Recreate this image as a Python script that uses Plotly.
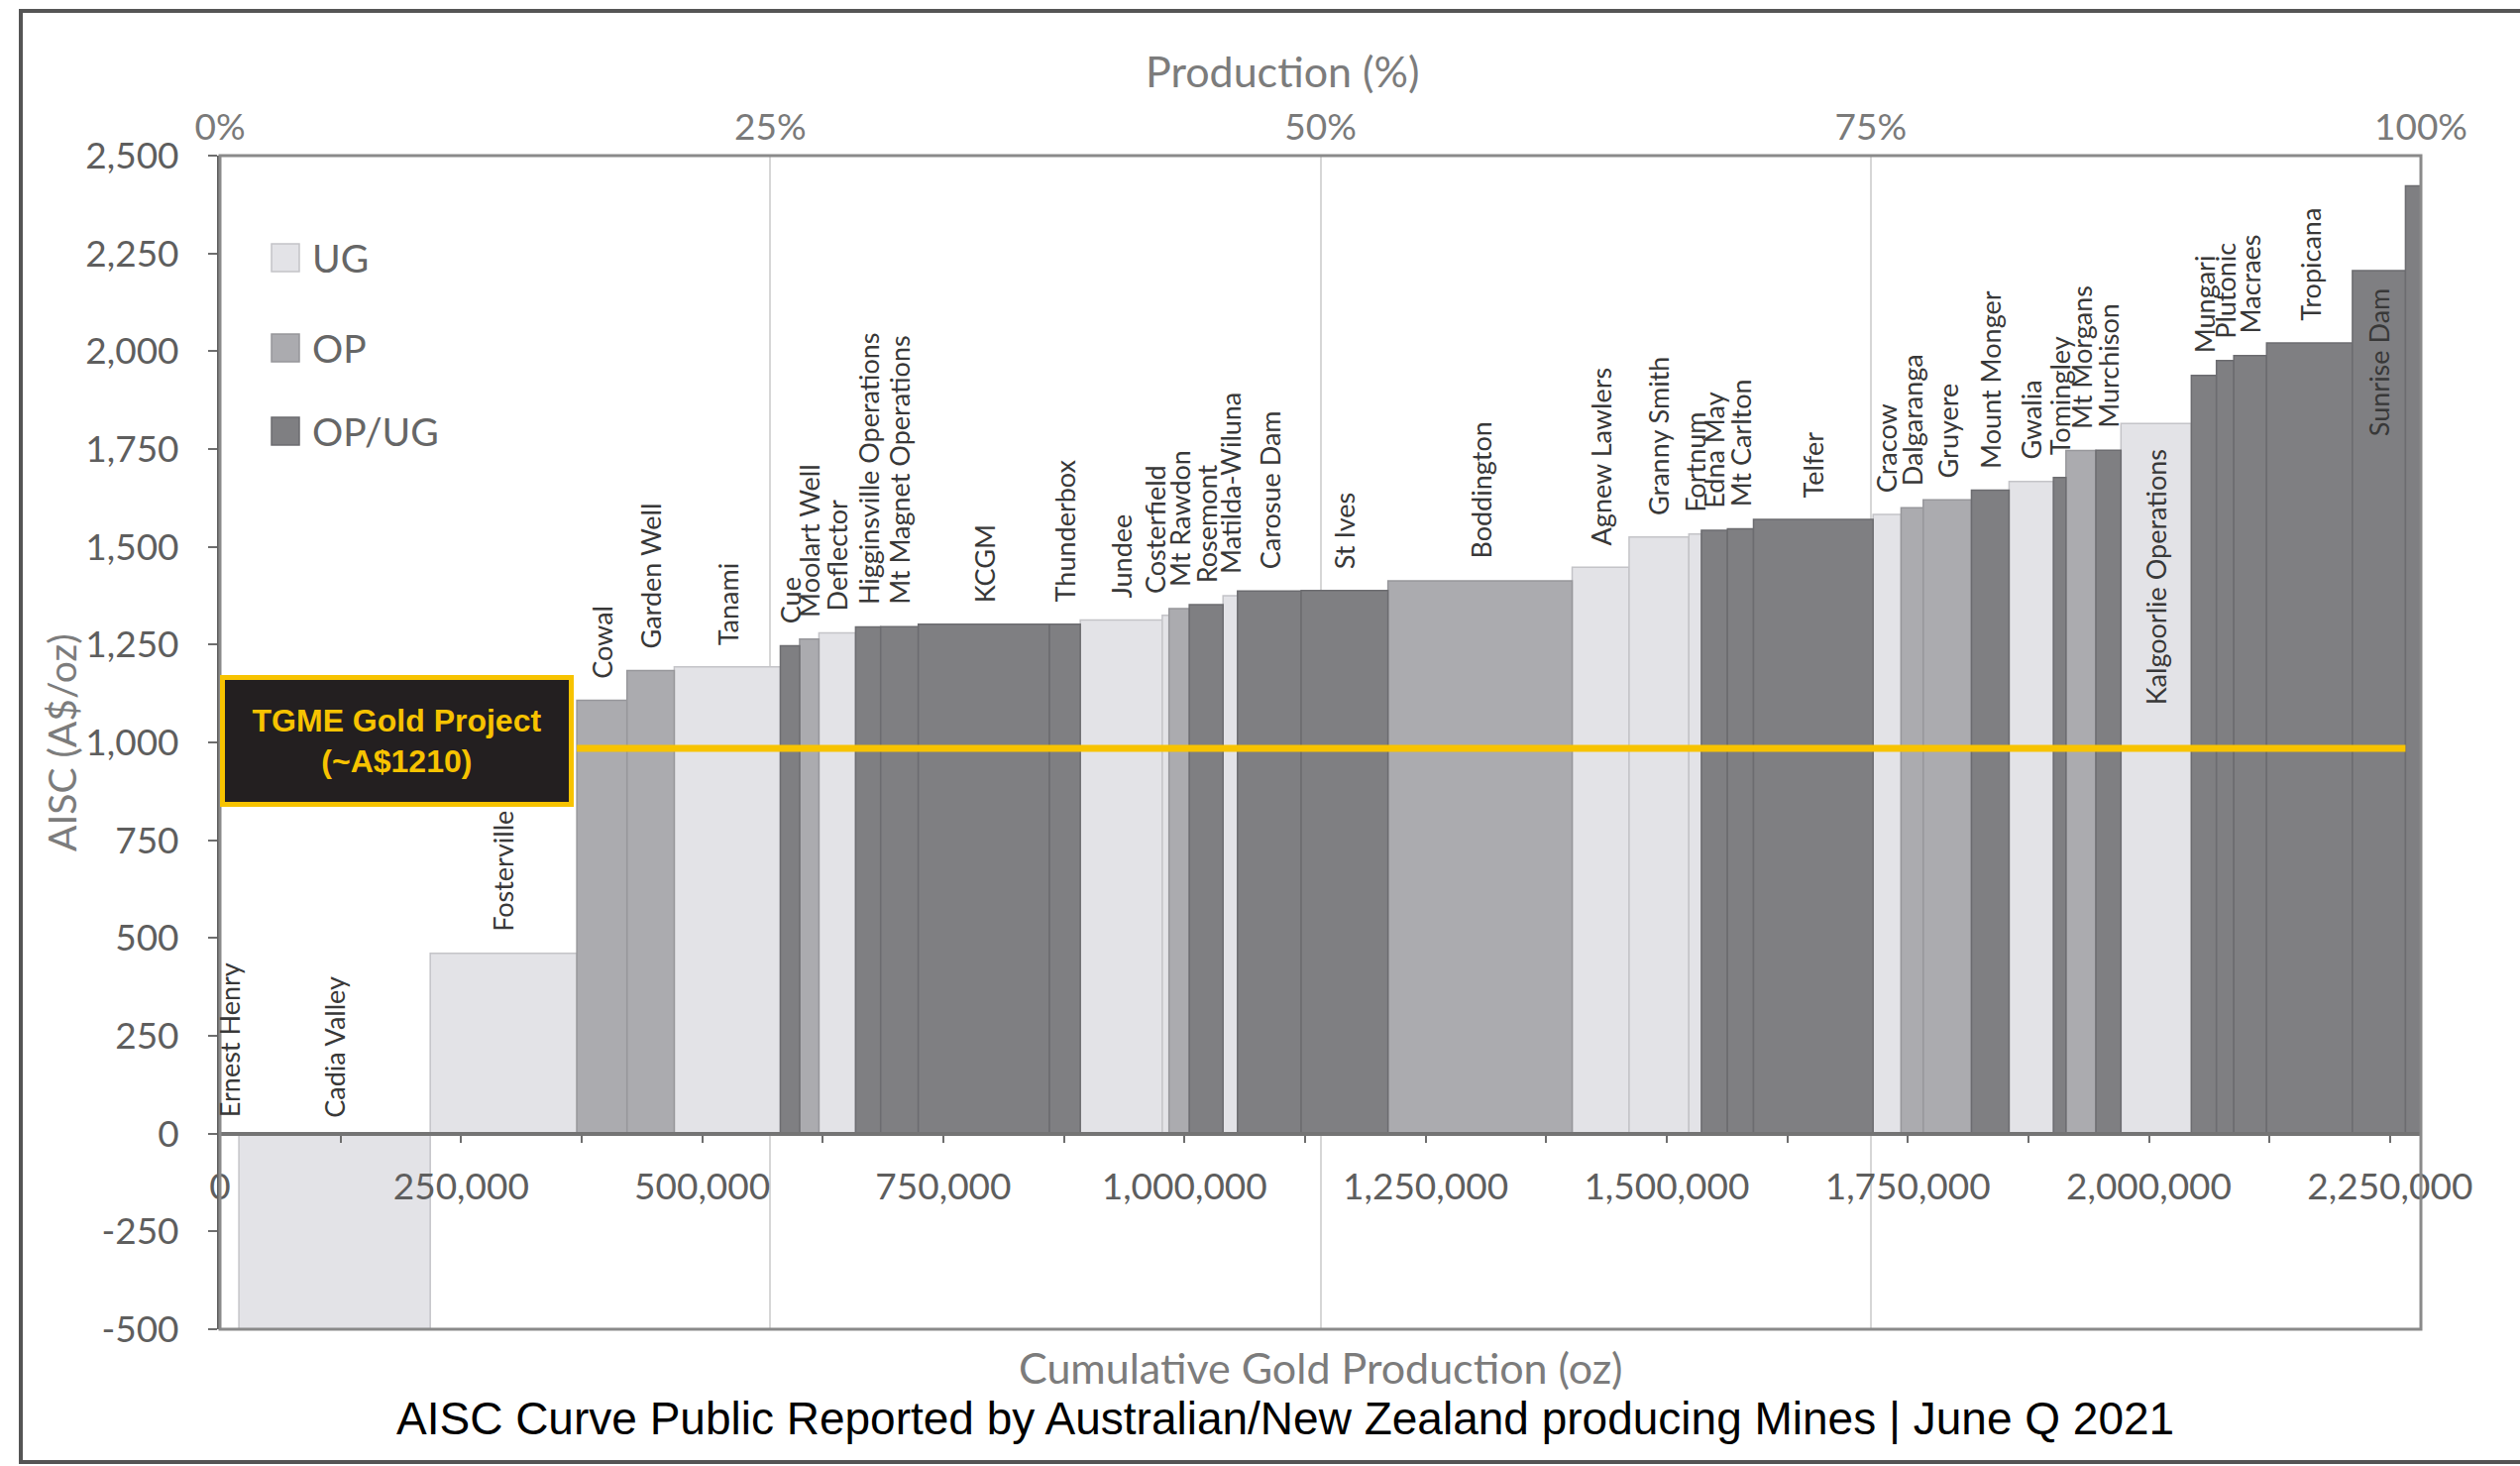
import plotly.graph_objects as go

# ---------------- DATA ----------------
mines = ["Ernest Henry", "Cadia Valley", "Fosterville", "Cowal", "Garden Well", "Tanami",
         "Cue", "Moolart Well", "Deflector", "Higginsville Operations", "Mt Magnet Operations",
         "KCGM", "Thunderbox", "Jundee", "Costerfield", "Mt Rawdon", "Rosemont",
         "Matilda-Wiluna", "Carosue Dam", "St Ives", "Boddington", "Agnew Lawlers",
         "Granny Smith", "Fortnum", "Edna May", "Mt Carlton", "Telfer", "Cracow",
         "Dalgaranga", "Gruyere", "Mount Monger", "Gwalia", "Tomingley", "Mt Morgans",
         "Murchison", "Kalgoorlie Operations", "Mungari", "Plutonic", "Macraes",
         "Tropicana", "Sunrise Dam", ""]
production_oz = [19600, 198400, 152000, 52000, 49000, 110000,
                 20000, 20000, 38000, 26000, 39000,
                 136000, 32000, 85000, 7000, 21000, 35000,
                 15000, 66000, 90000, 191000, 59000,
                 62000, 13000, 27000, 27000, 124000, 29000,
                 23000, 50000, 39000, 46000, 13000, 31000,
                 26000, 73000, 26000, 18000, 34000,
                 89000, 55000, 16000]
aisc = [0, -500, 461, 1108, 1184, 1193,
        1247, 1264, 1280, 1295, 1296,
        1302, 1302, 1313, 1325, 1342, 1352,
        1375, 1387, 1388, 1413, 1448,
        1525, 1533, 1542, 1546, 1570, 1583,
        1600, 1620, 1645, 1667, 1677, 1746,
        1747, 1815, 1938, 1976, 1989,
        2021, 2206, 2423]
mine_type = ["UG", "UG", "UG", "OP", "OP", "UG",
             "OP/UG", "OP", "UG", "OP/UG", "OP/UG",
             "OP/UG", "OP/UG", "UG", "UG", "OP", "OP/UG",
             "UG", "OP/UG", "OP/UG", "OP", "UG",
             "UG", "UG", "OP/UG", "OP/UG", "OP/UG", "UG",
             "OP", "OP", "OP/UG", "UG", "OP/UG", "OP",
             "OP/UG", "UG", "OP/UG", "OP/UG", "OP/UG",
             "OP/UG", "OP/UG", "OP/UG"]
categories = ["UG", "OP", "OP/UG"]

y_tick_values = [-500, -250, 0, 250, 500, 750, 1000, 1250, 1500, 1750, 2000, 2250, 2500]
y_tick_labels = ["-500", "-250", "0", "250", "500", "750", "1,000", "1,250", "1,500",
                 "1,750", "2,000", "2,250", "2,500"]
x_tick_values = [0, 250000, 500000, 750000, 1000000, 1250000, 1500000, 1750000, 2000000, 2250000]
x_tick_labels = ["0", "250,000", "500,000", "750,000", "1,000,000", "1,250,000",
                 "1,500,000", "1,750,000", "2,000,000", "2,250,000"]
pct_tick_values = [0, 25, 50, 75, 100]
pct_tick_labels = ["0%", "25%", "50%", "75%", "100%"]

TGME_TEXT = "TGME Gold Project<br>(~A$1210)"
TGME_LINE_AISC = 985
TGME_LINE_FROM = "Fosterville"
TGME_LINE_TO = "Sunrise Dam"

TITLE = "AISC Curve Public Reported by Australian/New Zealand producing Mines | June Q 2021"
Y_TITLE = "AISC (A$/oz)"
X_TITLE = "Cumulative Gold Production (oz)"
X2_TITLE = "Production (%)"
Y_MIN, Y_MAX = -500, 2500

# ---------------- STYLE ----------------
W, H = 2543, 1479
ML, MR, MT, MB = 222, 100, 157, 138
PW, PH = W - ML - MR, H - MT - MB

fill = {"UG": "#e3e3e7", "OP": "#ababaf", "OP/UG": "#7f7f82"}
edge = {"UG": "#c4c4c8", "OP": "#97979b", "OP/UG": "#6c6c70"}
GOLD = "#F7C300"
TICK_FONT = dict(family="Lato, sans-serif", size=37, color="#5e5e5e")
TITLE_FONT = dict(family="Lato, sans-serif", size=43, color="#7c7c7c")
LABEL_FONT = dict(family="Lato, sans-serif", size=27, color="#383838")

inside_label_gap = {"Kalgoorlie Operations": 24, "Sunrise Dam": 16}
label_xshift = {"Costerfield": -11}


def px_x(px):
    return (px - ML) / PW


def px_y(py):
    return (H - MB - py) / PH


# ---------------- GEOMETRY FROM DATA ----------------
ends = []
acc = 0
for p in production_oz:
    acc += p
    ends.append(acc)
starts = [e - p for e, p in zip(ends, production_oz)]
centers = [(s + e) / 2 for s, e in zip(starts, ends)]
total = ends[-1]

fig = go.Figure()
for cat in categories:
    idx = [i for i, t in enumerate(mine_type) if t == cat]
    fig.add_trace(go.Bar(
        x=[centers[i] for i in idx],
        y=[aisc[i] for i in idx],
        width=[production_oz[i] for i in idx],
        name=cat,
        marker=dict(color=fill[cat], line=dict(color=edge[cat], width=1.5)),
        showlegend=False,
        hovertext=[mines[i] for i in idx],
    ))
# dummy trace for the percent axis
fig.add_trace(go.Scatter(x=[0, 100], y=[None, None], xaxis="x2", showlegend=False,
                         mode="markers", hoverinfo="skip"))

annotations = []
for i, name in enumerate(mines):
    if not name:
        continue
    xs = label_xshift.get(name, 0)
    if name in inside_label_gap:
        annotations.append(dict(x=centers[i], y=aisc[i], xref="x", yref="y", text=name,
                                textangle=-90, showarrow=False, xanchor="center",
                                yanchor="top", yshift=-inside_label_gap[name], xshift=xs,
                                font=LABEL_FONT))
    else:
        base = max(aisc[i], 0)
        annotations.append(dict(x=centers[i], y=base, xref="x", yref="y", text=name,
                                textangle=-90, showarrow=False, xanchor="center",
                                yanchor="bottom", yshift=(14 if aisc[i] <= 0 else 20),
                                xshift=xs, font=LABEL_FONT))

# axis titles and chart title
annotations += [
    dict(x=px_x(1294), y=px_y(71), xref="paper", yref="paper", text=X2_TITLE,
         showarrow=False, font=TITLE_FONT, xanchor="center", yanchor="middle"),
    dict(x=0.5, y=px_y(1379), xref="paper", yref="paper", text=X_TITLE, showarrow=False,
         font=TITLE_FONT, xanchor="center", yanchor="middle"),
    dict(x=px_x(62), y=0.5, xref="paper", yref="paper", text=Y_TITLE, showarrow=False,
         textangle=-90, font=dict(family="Lato, sans-serif", size=39, color="#7c7c7c"),
         xanchor="center", yanchor="middle"),
    dict(x=px_x(1297), y=px_y(1431), xref="paper", yref="paper", text=TITLE,
         showarrow=False, font=dict(family="Liberation Sans, Arial, sans-serif", size=46,
                                    color="#000000"), xanchor="center", yanchor="middle"),
]

# legend (manual)
shapes = []
legend_rows = [260, 351, 435]
for cat, cy in zip(categories, legend_rows):
    shapes.append(dict(type="rect", xref="paper", yref="paper",
                       x0=px_x(274), x1=px_x(302), y0=px_y(cy + 14), y1=px_y(cy - 14),
                       fillcolor=fill[cat], line=dict(color=edge[cat], width=1.5)))
    annotations.append(dict(x=px_x(313), y=px_y(cy), xref="paper", yref="paper", text=cat,
                            showarrow=False, xanchor="left", yanchor="middle",
                            font=dict(family="Lato, sans-serif", size=39, color="#666666")))

# TGME box (annotation so it sits above the mine labels)
annotations.append(dict(x=0, y=px_y(681), xref="paper", yref="paper", text=TGME_TEXT,
                        showarrow=False, xanchor="left", yanchor="top",
                        width=347, height=123, bgcolor="#231F20", bordercolor=GOLD,
                        borderwidth=5, borderpad=0, align="center", valign="middle",
                        font=dict(family="Liberation Sans, Arial, sans-serif", size=32,
                                  color=GOLD, weight="bold")))

# TGME line
i_from = mines.index(TGME_LINE_FROM)
i_to = mines.index(TGME_LINE_TO)
shapes.append(dict(type="line", xref="x", yref="y", x0=ends[i_from], x1=ends[i_to],
                   y0=TGME_LINE_AISC, y1=TGME_LINE_AISC, line=dict(color=GOLD, width=7),
                   layer="above"))
# plot frame
shapes.append(dict(type="rect", xref="paper", yref="paper", x0=0, x1=1, y0=0, y1=1,
                   line=dict(color="#8a8a8a", width=3), layer="above"))
# outer picture frame
shapes.append(dict(type="rect", xref="paper", yref="paper", x0=px_x(21), x1=px_x(2600),
                   y0=px_y(1475), y1=px_y(11), line=dict(color="#555555", width=4),
                   layer="below"))

zero_pos = (0 - Y_MIN) / (Y_MAX - Y_MIN)

fig.update_layout(
    width=W, height=H,
    margin=dict(l=ML, r=MR, t=MT, b=MB, pad=0),
    paper_bgcolor="white", plot_bgcolor="white",
    barmode="overlay",
    showlegend=False,
    xaxis=dict(range=[0, total], anchor="free", position=zero_pos,
               tickmode="array", tickvals=x_tick_values, ticktext=x_tick_labels,
               ticks="outside", ticklen=7, tickwidth=2, tickcolor="#6e6e6e",
               minor=dict(dtick=125000, tick0=0, ticks="outside", ticklen=7,
                          tickwidth=2, tickcolor="#6e6e6e", showgrid=False),
               showline=True, linecolor="#747474", linewidth=4,
               showgrid=False, zeroline=False, tickfont=TICK_FONT,
               ticklabelstandoff=13),
    xaxis2=dict(range=[0, 100], overlaying="x", side="top", anchor="y",
                tickmode="array", tickvals=pct_tick_values, ticktext=pct_tick_labels,
                ticks="", showline=False, zeroline=False,
                showgrid=True, gridcolor="#d6d6d6", gridwidth=2,
                tickfont=dict(family="Lato, sans-serif", size=37, color="#7a7a7a"),
                ticklabelstandoff=8),
    yaxis=dict(range=[Y_MIN, Y_MAX], tickmode="array", tickvals=y_tick_values,
               ticktext=y_tick_labels, ticks="outside", ticklen=9, tickwidth=2,
               tickcolor="#6e6e6e", showline=True, linecolor="#5f5f5f", linewidth=3,
               showgrid=False, zeroline=False, tickfont=TICK_FONT,
               ticklabelstandoff=22),
    annotations=annotations,
    shapes=shapes,
)

fig.write_html("out.html", config={"displayModeBar": False},
               post_script="document.body.style.margin='0';document.body.style.overflow='hidden';")
